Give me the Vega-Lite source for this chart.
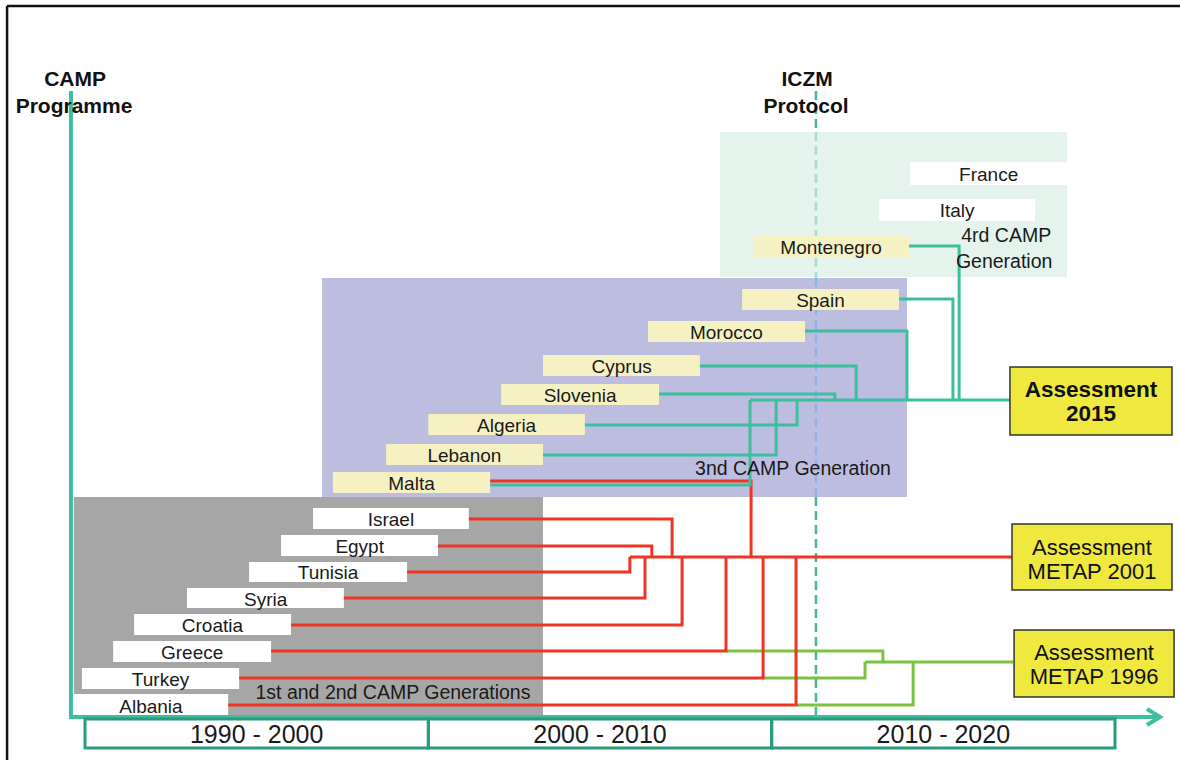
{
  "$schema": "https://vega.github.io/schema/vega-lite/v6.json",
  "width": 1180,
  "height": 760,
  "padding": 0,
  "autosize": {"type": "none"},
  "background": "white",
  "config": {"view": {"stroke": null}, "font": "Liberation Sans"},
  "datasets": {
    "regions": [
      {"gen": "4th", "start": 2008.50, "end": 2018.60, "top": 132, "bottom": 277, "kind": "gen4"},
      {"gen": "3rd", "start": 1996.90, "end": 2013.94, "top": 278, "bottom": 497, "kind": "gen3"},
      {"gen": "1st-2nd", "start": 1989.68, "end": 2003.34, "top": 497, "bottom": 715, "kind": "gen12"}
    ],
    "iczm": [
      {"seg": "above", "year": 2011.29, "top": 91, "bottom": 132, "kind": "iczm_out"},
      {"seg": "gen4", "year": 2011.29, "top": 132, "bottom": 278, "kind": "iczm_g4"},
      {"seg": "gen3", "year": 2011.29, "top": 278, "bottom": 497, "kind": "iczm_g3"},
      {"seg": "below", "year": 2011.29, "top": 497, "bottom": 717, "kind": "iczm_out"}
    ],
    "countries": [
      {"country": "France", "start": 2014.03, "end": 2018.60, "top": 162, "bottom": 185, "mid": 2016.32, "label_level": 175, "kind": "box_white"},
      {"country": "Italy", "start": 2013.13, "end": 2017.67, "top": 199, "bottom": 221, "mid": 2015.40, "label_level": 211, "kind": "box_white"},
      {"country": "Montenegro", "start": 2009.46, "end": 2014.00, "top": 236, "bottom": 257, "mid": 2011.73, "label_level": 248, "kind": "box_yellow"},
      {"country": "Spain", "start": 2009.14, "end": 2013.71, "top": 289, "bottom": 310, "mid": 2011.42, "label_level": 301, "kind": "box_yellow"},
      {"country": "Morocco", "start": 2006.40, "end": 2010.97, "top": 321, "bottom": 342, "mid": 2008.68, "label_level": 333, "kind": "box_yellow"},
      {"country": "Cyprus", "start": 2003.34, "end": 2007.91, "top": 355, "bottom": 376, "mid": 2005.63, "label_level": 367, "kind": "box_yellow"},
      {"country": "Slovenia", "start": 2002.12, "end": 2006.72, "top": 384, "bottom": 405, "mid": 2004.42, "label_level": 396, "kind": "box_yellow"},
      {"country": "Algeria", "start": 2000.00, "end": 2004.56, "top": 414, "bottom": 435, "mid": 2002.28, "label_level": 426, "kind": "box_yellow"},
      {"country": "Lebanon", "start": 1998.77, "end": 2003.34, "top": 444, "bottom": 465, "mid": 2001.05, "label_level": 456, "kind": "box_yellow"},
      {"country": "Malta", "start": 1997.22, "end": 2001.80, "top": 472, "bottom": 493, "mid": 1999.51, "label_level": 484, "kind": "box_yellow"},
      {"country": "Israel", "start": 1996.64, "end": 2001.18, "top": 508, "bottom": 529, "mid": 1998.91, "label_level": 520, "kind": "box_white"},
      {"country": "Egypt", "start": 1995.71, "end": 2000.28, "top": 535, "bottom": 556, "mid": 1998.00, "label_level": 547, "kind": "box_white"},
      {"country": "Tunisia", "start": 1994.78, "end": 1999.38, "top": 562, "bottom": 582, "mid": 1997.08, "label_level": 573, "kind": "box_white"},
      {"country": "Syria", "start": 1992.97, "end": 1997.54, "top": 588, "bottom": 608, "mid": 1995.26, "label_level": 600, "kind": "box_white"},
      {"country": "Croatia", "start": 1991.43, "end": 1996.00, "top": 614, "bottom": 635, "mid": 1993.71, "label_level": 626, "kind": "box_white"},
      {"country": "Greece", "start": 1990.82, "end": 1995.42, "top": 641, "bottom": 662, "mid": 1993.12, "label_level": 653, "kind": "box_white"},
      {"country": "Turkey", "start": 1989.91, "end": 1994.49, "top": 668, "bottom": 689, "mid": 1992.20, "label_level": 680, "kind": "box_white"},
      {"country": "Albania", "start": 1989.68, "end": 1994.17, "top": 694, "bottom": 715, "mid": 1991.92, "label_level": 707, "kind": "box_white"}
    ],
    "links": [
      {"path": "Greece-1996", "kind": "metap1996", "seq": 1, "year": 2008.67, "level": 651},
      {"path": "Greece-1996", "kind": "metap1996", "seq": 2, "year": 2013.24, "level": 651},
      {"path": "Greece-1996", "kind": "metap1996", "seq": 3, "year": 2013.24, "level": 662},
      {"path": "Turkey-1996", "kind": "metap1996", "seq": 1, "year": 2009.75, "level": 678},
      {"path": "Turkey-1996", "kind": "metap1996", "seq": 2, "year": 2012.72, "level": 678},
      {"path": "Turkey-1996", "kind": "metap1996", "seq": 3, "year": 2012.72, "level": 662},
      {"path": "Albania-1996", "kind": "metap1996", "seq": 1, "year": 2010.71, "level": 705},
      {"path": "Albania-1996", "kind": "metap1996", "seq": 2, "year": 2014.12, "level": 705},
      {"path": "Albania-1996", "kind": "metap1996", "seq": 3, "year": 2014.12, "level": 662},
      {"path": "Main-1996", "kind": "metap1996", "seq": 1, "year": 2012.72, "level": 662},
      {"path": "Main-1996", "kind": "metap1996", "seq": 2, "year": 2017.03, "level": 662},

      {"path": "Israel-2001", "kind": "metap2001", "seq": 1, "year": 2001.18, "level": 519},
      {"path": "Israel-2001", "kind": "metap2001", "seq": 2, "year": 2007.10, "level": 519},
      {"path": "Israel-2001", "kind": "metap2001", "seq": 3, "year": 2007.10, "level": 557},
      {"path": "Egypt-2001", "kind": "metap2001", "seq": 1, "year": 2000.28, "level": 546},
      {"path": "Egypt-2001", "kind": "metap2001", "seq": 2, "year": 2006.51, "level": 546},
      {"path": "Egypt-2001", "kind": "metap2001", "seq": 3, "year": 2006.51, "level": 557},
      {"path": "Tunisia-2001", "kind": "metap2001", "seq": 1, "year": 1999.38, "level": 572},
      {"path": "Tunisia-2001", "kind": "metap2001", "seq": 2, "year": 2005.87, "level": 572},
      {"path": "Tunisia-2001", "kind": "metap2001", "seq": 3, "year": 2005.87, "level": 557},
      {"path": "Syria-2001", "kind": "metap2001", "seq": 1, "year": 1997.54, "level": 598},
      {"path": "Syria-2001", "kind": "metap2001", "seq": 2, "year": 2006.31, "level": 598},
      {"path": "Syria-2001", "kind": "metap2001", "seq": 3, "year": 2006.31, "level": 557},
      {"path": "Croatia-2001", "kind": "metap2001", "seq": 1, "year": 1996.00, "level": 625},
      {"path": "Croatia-2001", "kind": "metap2001", "seq": 2, "year": 2007.39, "level": 625},
      {"path": "Croatia-2001", "kind": "metap2001", "seq": 3, "year": 2007.39, "level": 557},
      {"path": "Greece-2001", "kind": "metap2001", "seq": 1, "year": 1995.42, "level": 651},
      {"path": "Greece-2001", "kind": "metap2001", "seq": 2, "year": 2008.67, "level": 651},
      {"path": "Greece-2001", "kind": "metap2001", "seq": 3, "year": 2008.67, "level": 557},
      {"path": "Turkey-2001", "kind": "metap2001", "seq": 1, "year": 1994.49, "level": 678},
      {"path": "Turkey-2001", "kind": "metap2001", "seq": 2, "year": 2009.75, "level": 678},
      {"path": "Turkey-2001", "kind": "metap2001", "seq": 3, "year": 2009.75, "level": 557},
      {"path": "Albania-2001", "kind": "metap2001", "seq": 1, "year": 1994.17, "level": 705},
      {"path": "Albania-2001", "kind": "metap2001", "seq": 2, "year": 2010.71, "level": 705},
      {"path": "Albania-2001", "kind": "metap2001", "seq": 3, "year": 2010.71, "level": 557},
      {"path": "Malta-2001", "kind": "metap2001", "seq": 1, "year": 2001.80, "level": 481},
      {"path": "Malta-2001", "kind": "metap2001", "seq": 2, "year": 2009.40, "level": 481},
      {"path": "Malta-2001", "kind": "metap2001", "seq": 3, "year": 2009.40, "level": 557},
      {"path": "Main-2001", "kind": "metap2001", "seq": 1, "year": 2005.87, "level": 557},
      {"path": "Main-2001", "kind": "metap2001", "seq": 2, "year": 2017.00, "level": 557},

      {"path": "Main-2015", "kind": "assess2015", "seq": 1, "year": 2009.37, "level": 400},
      {"path": "Main-2015", "kind": "assess2015", "seq": 2, "year": 2016.94, "level": 400},
      {"path": "Malta-2015", "kind": "assess2015", "seq": 1, "year": 2001.80, "level": 485},
      {"path": "Malta-2015", "kind": "assess2015", "seq": 2, "year": 2009.37, "level": 485},
      {"path": "Malta-2015", "kind": "assess2015", "seq": 3, "year": 2009.37, "level": 400},
      {"path": "Lebanon-2015", "kind": "assess2015", "seq": 1, "year": 2003.34, "level": 455},
      {"path": "Lebanon-2015", "kind": "assess2015", "seq": 2, "year": 2010.13, "level": 455},
      {"path": "Lebanon-2015", "kind": "assess2015", "seq": 3, "year": 2010.13, "level": 400},
      {"path": "Algeria-2015", "kind": "assess2015", "seq": 1, "year": 2004.56, "level": 425},
      {"path": "Algeria-2015", "kind": "assess2015", "seq": 2, "year": 2010.74, "level": 425},
      {"path": "Algeria-2015", "kind": "assess2015", "seq": 3, "year": 2010.74, "level": 400},
      {"path": "Slovenia-2015", "kind": "assess2015", "seq": 1, "year": 2006.72, "level": 394},
      {"path": "Slovenia-2015", "kind": "assess2015", "seq": 2, "year": 2011.84, "level": 394},
      {"path": "Slovenia-2015", "kind": "assess2015", "seq": 3, "year": 2011.84, "level": 400},
      {"path": "Cyprus-2015", "kind": "assess2015", "seq": 1, "year": 2007.91, "level": 366},
      {"path": "Cyprus-2015", "kind": "assess2015", "seq": 2, "year": 2012.46, "level": 366},
      {"path": "Cyprus-2015", "kind": "assess2015", "seq": 3, "year": 2012.46, "level": 400},
      {"path": "Morocco-2015", "kind": "assess2015", "seq": 1, "year": 2010.97, "level": 331},
      {"path": "Morocco-2015", "kind": "assess2015", "seq": 2, "year": 2013.94, "level": 331},
      {"path": "Morocco-2015", "kind": "assess2015", "seq": 3, "year": 2013.94, "level": 400},
      {"path": "Spain-2015", "kind": "assess2015", "seq": 1, "year": 2013.71, "level": 299},
      {"path": "Spain-2015", "kind": "assess2015", "seq": 2, "year": 2015.28, "level": 299},
      {"path": "Spain-2015", "kind": "assess2015", "seq": 3, "year": 2015.28, "level": 400},
      {"path": "Montenegro-2015", "kind": "assess2015", "seq": 1, "year": 2014.00, "level": 246},
      {"path": "Montenegro-2015", "kind": "assess2015", "seq": 2, "year": 2015.46, "level": 246},
      {"path": "Montenegro-2015", "kind": "assess2015", "seq": 3, "year": 2015.46, "level": 400}
    ],
    "frame": [
      {"path": "camp", "seq": 1, "year": 1989.59, "level": 91},
      {"path": "camp", "seq": 2, "year": 1989.59, "level": 717},
      {"path": "camp", "seq": 3, "year": 2021.31, "level": 717},
      {"path": "arrowhead", "seq": 1, "year": 2020.93, "level": 709},
      {"path": "arrowhead", "seq": 2, "year": 2021.31, "level": 717},
      {"path": "arrowhead", "seq": 3, "year": 2020.93, "level": 725}
    ],
    "border": [
      {"side": "top", "start": 1987.73, "end": 2021.95, "top": 6, "bottom": 6},
      {"side": "left", "start": 1987.73, "end": 1987.73, "top": 6, "bottom": 760}
    ],
    "decades": [
      {"decade": "1990 - 2000", "start": 1990, "end": 2000, "mid": 1995, "top": 719, "bottom": 748, "label_level": 735},
      {"decade": "2000 - 2010", "start": 2000, "end": 2010, "mid": 2005, "top": 719, "bottom": 748, "label_level": 735},
      {"decade": "2010 - 2020", "start": 2010, "end": 2020, "mid": 2015, "top": 719, "bottom": 748, "label_level": 735}
    ],
    "assessments": [
      {"name": "Assessment 2015", "start": 2016.94, "end": 2021.66, "top": 367, "bottom": 435},
      {"name": "Assessment METAP 2001", "start": 2017.00, "end": 2021.66, "top": 524, "bottom": 590},
      {"name": "Assessment METAP 1996", "start": 2017.06, "end": 2021.72, "top": 630, "bottom": 697}
    ],
    "notes": [
      {"text": "CAMP", "style": "title", "year": 1989.71, "level": 80},
      {"text": "Programme", "style": "title", "year": 1989.68, "level": 107},
      {"text": "ICZM", "style": "title", "year": 2011.03, "level": 80},
      {"text": "Protocol", "style": "title", "year": 2011.00, "level": 107},
      {"text": "4rd CAMP", "style": "gen", "year": 2016.83, "level": 236},
      {"text": "Generation", "style": "gen", "year": 2016.77, "level": 262},
      {"text": "3nd CAMP Generation", "style": "gen", "year": 2010.62, "level": 469},
      {"text": "1st and 2nd CAMP  Generations", "style": "gen", "year": 1998.97, "level": 693},
      {"text": "Assessment", "style": "assess_bold", "year": 2019.30, "level": 390},
      {"text": "2015", "style": "assess_bold", "year": 2019.30, "level": 414},
      {"text": "Assessment", "style": "assess", "year": 2019.33, "level": 548},
      {"text": "METAP 2001", "style": "assess", "year": 2019.33, "level": 572},
      {"text": "Assessment", "style": "assess", "year": 2019.39, "level": 653},
      {"text": "METAP 1996", "style": "assess", "year": 2019.39, "level": 677}
    ]
  },
  "layer": [
    {
      "data": {"name": "regions"},
      "mark": {"type": "rect"},
      "encoding": {
        "x": {"field": "start", "type": "quantitative", "axis": null, "scale": {"domain": [1987.524, 2021.893], "nice": false, "zero": false}},
        "x2": {"field": "end"},
        "y": {"field": "top", "type": "quantitative", "axis": null, "scale": {"domain": [0, 760], "reverse": true, "nice": false, "zero": false}},
        "y2": {"field": "bottom"},
        "color": {"field": "kind", "type": "nominal", "legend": null,
          "scale": {"domain": ["gen4","gen3","gen12","box_white","box_yellow","metap2001","metap1996","assess2015","iczm_out","iczm_g4","iczm_g3"],
                    "range": ["#e4f3ec","#bdbde0","#a6a6a6","#ffffff","#f6f1c3","#ee3424","#7cc242","#3dbf9e","#3fb9a0","#a9dccd","#8fb4e2"]}}
      }
    },
    {
      "data": {"name": "iczm"},
      "mark": {"type": "rule", "strokeWidth": 2.5, "strokeDash": [9, 5]},
      "encoding": {
        "x": {"field": "year", "type": "quantitative", "axis": null, "scale": {"domain": [1987.524, 2021.893], "nice": false, "zero": false}},
        "y": {"field": "top", "type": "quantitative", "axis": null, "scale": {"domain": [0, 760], "reverse": true, "nice": false, "zero": false}},
        "y2": {"field": "bottom"},
        "color": {"field": "kind", "type": "nominal", "legend": null,
          "scale": {"domain": ["gen4","gen3","gen12","box_white","box_yellow","metap2001","metap1996","assess2015","iczm_out","iczm_g4","iczm_g3"],
                    "range": ["#e4f3ec","#bdbde0","#a6a6a6","#ffffff","#f6f1c3","#ee3424","#7cc242","#3dbf9e","#3fb9a0","#a9dccd","#8fb4e2"]}}
      }
    },
    {
      "data": {"name": "countries"},
      "mark": {"type": "rect"},
      "encoding": {
        "x": {"field": "start", "type": "quantitative", "axis": null, "scale": {"domain": [1987.524, 2021.893], "nice": false, "zero": false}},
        "x2": {"field": "end"},
        "y": {"field": "top", "type": "quantitative", "axis": null, "scale": {"domain": [0, 760], "reverse": true, "nice": false, "zero": false}},
        "y2": {"field": "bottom"},
        "color": {"field": "kind", "type": "nominal", "legend": null,
          "scale": {"domain": ["gen4","gen3","gen12","box_white","box_yellow","metap2001","metap1996","assess2015","iczm_out","iczm_g4","iczm_g3"],
                    "range": ["#e4f3ec","#bdbde0","#a6a6a6","#ffffff","#f6f1c3","#ee3424","#7cc242","#3dbf9e","#3fb9a0","#a9dccd","#8fb4e2"]}}
      }
    },
    {
      "data": {"name": "links"},
      "mark": {"type": "line", "strokeWidth": 3, "strokeJoin": "miter", "strokeCap": "butt"},
      "encoding": {
        "x": {"field": "year", "type": "quantitative", "axis": null, "scale": {"domain": [1987.524, 2021.893], "nice": false, "zero": false}},
        "y": {"field": "level", "type": "quantitative", "axis": null, "scale": {"domain": [0, 760], "reverse": true, "nice": false, "zero": false}},
        "detail": {"field": "path", "type": "nominal"},
        "order": {"field": "seq", "type": "quantitative"},
        "color": {"field": "kind", "type": "nominal", "legend": null,
          "scale": {"domain": ["gen4","gen3","gen12","box_white","box_yellow","metap2001","metap1996","assess2015","iczm_out","iczm_g4","iczm_g3"],
                    "range": ["#e4f3ec","#bdbde0","#a6a6a6","#ffffff","#f6f1c3","#ee3424","#7cc242","#3dbf9e","#3fb9a0","#a9dccd","#8fb4e2"]}}
      }
    },
    {
      "data": {"name": "frame"},
      "mark": {"type": "line", "strokeWidth": 4, "color": "#3dbf9e", "strokeJoin": "miter"},
      "encoding": {
        "x": {"field": "year", "type": "quantitative", "axis": null, "scale": {"domain": [1987.524, 2021.893], "nice": false, "zero": false}},
        "y": {"field": "level", "type": "quantitative", "axis": null, "scale": {"domain": [0, 760], "reverse": true, "nice": false, "zero": false}},
        "detail": {"field": "path", "type": "nominal"},
        "order": {"field": "seq", "type": "quantitative"}
      }
    },
    {
      "data": {"name": "border"},
      "mark": {"type": "rule", "strokeWidth": 2.5, "color": "#111111"},
      "encoding": {
        "x": {"field": "start", "type": "quantitative", "axis": null, "scale": {"domain": [1987.524, 2021.893], "nice": false, "zero": false}},
        "x2": {"field": "end"},
        "y": {"field": "top", "type": "quantitative", "axis": null, "scale": {"domain": [0, 760], "reverse": true, "nice": false, "zero": false}},
        "y2": {"field": "bottom"}
      }
    },
    {
      "data": {"name": "decades"},
      "mark": {"type": "rect", "fill": null, "stroke": "#2a9c7e", "strokeWidth": 3},
      "encoding": {
        "x": {"field": "start", "type": "quantitative", "axis": null, "scale": {"domain": [1987.524, 2021.893], "nice": false, "zero": false}},
        "x2": {"field": "end"},
        "y": {"field": "top", "type": "quantitative", "axis": null, "scale": {"domain": [0, 760], "reverse": true, "nice": false, "zero": false}},
        "y2": {"field": "bottom"}
      }
    },
    {
      "data": {"name": "decades"},
      "mark": {"type": "text", "fontSize": 25, "font": "Liberation Sans", "fill": "#1a1a1a", "align": "center", "baseline": "middle"},
      "encoding": {
        "x": {"field": "mid", "type": "quantitative", "axis": null, "scale": {"domain": [1987.524, 2021.893], "nice": false, "zero": false}},
        "y": {"field": "label_level", "type": "quantitative", "axis": null, "scale": {"domain": [0, 760], "reverse": true, "nice": false, "zero": false}},
        "text": {"field": "decade"}
      }
    },
    {
      "data": {"name": "assessments"},
      "mark": {"type": "rect", "fill": "#eee83f", "stroke": "#333333", "strokeWidth": 1.5},
      "encoding": {
        "x": {"field": "start", "type": "quantitative", "axis": null, "scale": {"domain": [1987.524, 2021.893], "nice": false, "zero": false}},
        "x2": {"field": "end"},
        "y": {"field": "top", "type": "quantitative", "axis": null, "scale": {"domain": [0, 760], "reverse": true, "nice": false, "zero": false}},
        "y2": {"field": "bottom"}
      }
    },
    {
      "data": {"name": "countries"},
      "mark": {"type": "text", "fontSize": 19, "font": "Liberation Sans", "fill": "#1a1a1a", "align": "center", "baseline": "middle"},
      "encoding": {
        "x": {"field": "mid", "type": "quantitative", "axis": null, "scale": {"domain": [1987.524, 2021.893], "nice": false, "zero": false}},
        "y": {"field": "label_level", "type": "quantitative", "axis": null, "scale": {"domain": [0, 760], "reverse": true, "nice": false, "zero": false}},
        "text": {"field": "country"}
      }
    },
    {
      "data": {"name": "notes"},
      "transform": [{"filter": "datum.style === 'title'"}],
      "mark": {"type": "text", "fontSize": 21, "fontWeight": "bold", "font": "Liberation Sans", "fill": "#111111", "align": "center", "baseline": "middle"},
      "encoding": {
        "x": {"field": "year", "type": "quantitative", "axis": null, "scale": {"domain": [1987.524, 2021.893], "nice": false, "zero": false}},
        "y": {"field": "level", "type": "quantitative", "axis": null, "scale": {"domain": [0, 760], "reverse": true, "nice": false, "zero": false}},
        "text": {"field": "text"}
      }
    },
    {
      "data": {"name": "notes"},
      "transform": [{"filter": "datum.style === 'gen'"}],
      "mark": {"type": "text", "fontSize": 19.5, "font": "Liberation Sans", "fill": "#1a1a1a", "align": "center", "baseline": "middle"},
      "encoding": {
        "x": {"field": "year", "type": "quantitative", "axis": null, "scale": {"domain": [1987.524, 2021.893], "nice": false, "zero": false}},
        "y": {"field": "level", "type": "quantitative", "axis": null, "scale": {"domain": [0, 760], "reverse": true, "nice": false, "zero": false}},
        "text": {"field": "text"}
      }
    },
    {
      "data": {"name": "notes"},
      "transform": [{"filter": "datum.style === 'assess_bold'"}],
      "mark": {"type": "text", "fontSize": 22.5, "fontWeight": "bold", "font": "Liberation Sans", "fill": "#111111", "align": "center", "baseline": "middle"},
      "encoding": {
        "x": {"field": "year", "type": "quantitative", "axis": null, "scale": {"domain": [1987.524, 2021.893], "nice": false, "zero": false}},
        "y": {"field": "level", "type": "quantitative", "axis": null, "scale": {"domain": [0, 760], "reverse": true, "nice": false, "zero": false}},
        "text": {"field": "text"}
      }
    },
    {
      "data": {"name": "notes"},
      "transform": [{"filter": "datum.style === 'assess'"}],
      "mark": {"type": "text", "fontSize": 22, "font": "Liberation Sans", "fill": "#111111", "align": "center", "baseline": "middle"},
      "encoding": {
        "x": {"field": "year", "type": "quantitative", "axis": null, "scale": {"domain": [1987.524, 2021.893], "nice": false, "zero": false}},
        "y": {"field": "level", "type": "quantitative", "axis": null, "scale": {"domain": [0, 760], "reverse": true, "nice": false, "zero": false}},
        "text": {"field": "text"}
      }
    }
  ]
}
